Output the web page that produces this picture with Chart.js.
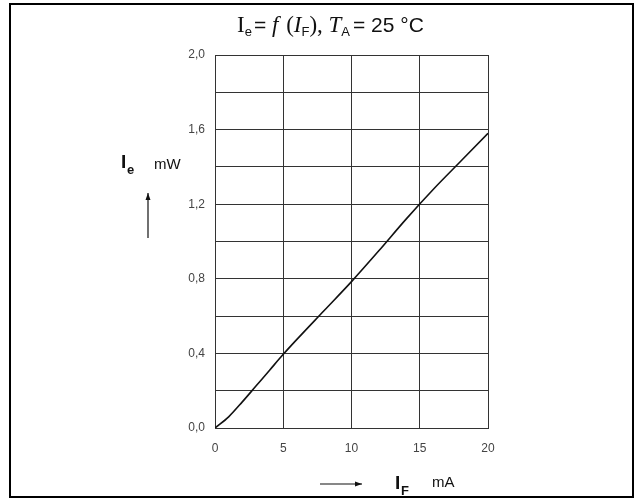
<!DOCTYPE html>
<html>
<head>
<meta charset="utf-8">
<script src="https://cdn.jsdelivr.net/npm/chart.js@4/dist/chart.umd.min.js"></script>
<style>
  html, body { margin: 0; padding: 0; background: #fff; }
  canvas { display: block; }
</style>
</head>
<body>
<canvas id="ieChart" width="634" height="498"></canvas>
<script>
// forward current I_F in mA and radiant power I_e in mW
const forwardCurrent = [0, 1, 2, 3, 4, 5, 6, 8, 10, 12, 14, 16, 18, 20];
const radiantPower = [0, 0.06, 0.14, 0.225, 0.31, 0.395, 0.475, 0.63, 0.785, 0.95, 1.12, 1.28, 1.43, 1.58];
const xTicks = [0, 5, 10, 15, 20];
const yTickLabels = ['0,0', '0,4', '0,8', '1,2', '1,6', '2,0'];

const SANS = '"Liberation Sans", Arial, sans-serif';
const SERIF = '"Liberation Serif", "Times New Roman", serif';

// draw text pieces one after the other, each with its own font and baseline
function drawRun(ctx, x, parts) {
    parts.forEach(p => {
        ctx.font = p.font;
        ctx.fillText(p.text, x, p.y);
        x += ctx.measureText(p.text).width + (p.gap || 0);
    });
}

function drawAt(ctx, parts) {
    parts.forEach(p => {
        ctx.font = p.font;
        ctx.fillText(p.text, p.x, p.y);
    });
}

function arrow(ctx, x1, y1, x2, y2) {
    const ang = Math.atan2(y2 - y1, x2 - x1);
    ctx.beginPath();
    ctx.moveTo(x1, y1);
    ctx.lineTo(x2, y2);
    ctx.lineWidth = 1.2;
    ctx.stroke();
    ctx.beginPath();
    ctx.moveTo(x2, y2);
    ctx.lineTo(x2 - 7 * Math.cos(ang) + 2.5 * Math.sin(ang), y2 - 7 * Math.sin(ang) - 2.5 * Math.cos(ang));
    ctx.lineTo(x2 - 7 * Math.cos(ang) - 2.5 * Math.sin(ang), y2 - 7 * Math.sin(ang) + 2.5 * Math.cos(ang));
    ctx.closePath();
    ctx.fill();
}

const decorPlugin = {
    id: 'decor',
    afterDraw(chart) {
        const ctx = chart.ctx;
        ctx.save();
        ctx.fillStyle = '#111';
        ctx.strokeStyle = '#111';
        ctx.textBaseline = 'alphabetic';
        ctx.textAlign = 'left';

        // title: Ie = f (IF), TA = 25 °C
        drawRun(ctx, 237, [
            { text: 'I', font: '23px ' + SERIF, y: 32 },
            { text: 'e', font: '13px ' + SANS, y: 36, gap: 2 },
            { text: '= ', font: '21px ' + SANS, y: 32 },
            { text: 'f', font: 'italic 23px ' + SERIF, y: 32, gap: 2 },
            { text: ' (', font: '23px ' + SERIF, y: 32 },
            { text: 'I', font: 'italic 23px ' + SERIF, y: 32 },
            { text: 'F', font: '13px ' + SANS, y: 36 },
            { text: '), ', font: '23px ' + SERIF, y: 32 },
            { text: 'T', font: 'italic 23px ' + SERIF, y: 32 },
            { text: 'A', font: '13px ' + SANS, y: 36, gap: 3 },
            { text: '= 25 °C', font: '21px ' + SANS, y: 32 }
        ]);

        // y axis label
        drawAt(ctx, [
            { text: 'I', font: 'bold 19px ' + SANS, x: 121, y: 168 },
            { text: 'e', font: 'bold 13px ' + SANS, x: 127, y: 174 },
            { text: 'mW', font: '15px ' + SANS, x: 154, y: 169 }
        ]);
        arrow(ctx, 148, 238, 148, 193);

        // x axis label
        drawAt(ctx, [
            { text: 'I', font: 'bold 19px ' + SANS, x: 395, y: 489 },
            { text: 'F', font: 'bold 13px ' + SANS, x: 401, y: 495 },
            { text: 'mA', font: '15px ' + SANS, x: 432, y: 487 }
        ]);
        arrow(ctx, 320, 484, 362, 484);

        // outer frame
        ctx.lineWidth = 2;
        ctx.strokeStyle = '#000';
        ctx.strokeRect(10, 4, 623, 493);
        ctx.restore();
    }
};

const ctx = document.getElementById('ieChart').getContext('2d');
const ieChart = new Chart(ctx, {
    type: 'line',
    data: {
        datasets: [{
            data: forwardCurrent.map((v, i) => ({ x: v, y: radiantPower[i] })),
            borderColor: '#111',
            borderWidth: 1.6,
            pointRadius: 0,
            cubicInterpolationMode: 'monotone',
            fill: false
        }]
    },
    options: {
        responsive: false,
        animation: false,
        layout: { padding: { left: 0, top: 55, right: 146, bottom: 0 } },
        plugins: { legend: { display: false }, title: { display: false }, tooltip: { enabled: false } },
        scales: {
            x: {
                type: 'linear',
                min: xTicks[0],
                max: xTicks[xTicks.length - 1],
                afterBuildTicks: axis => { axis.ticks = xTicks.map(v => ({ value: v })); },
                afterFit: axis => { axis.height = 70; },
                grid: { color: '#333', lineWidth: 1, drawTicks: false },
                border: { color: '#333', width: 1 },
                ticks: { color: '#444', font: { family: SANS, size: 12 }, padding: 13, maxRotation: 0 }
            },
            y: {
                min: 0,
                max: 2,
                afterFit: axis => { axis.width = 215; },
                grid: { color: '#333', lineWidth: 1, drawTicks: false },
                border: { color: '#333', width: 1 },
                ticks: {
                    stepSize: 0.2,
                    color: '#444',
                    font: { family: SANS, size: 12 },
                    padding: 10,
                    callback: (value, index) => index % 2 === 0 ? yTickLabels[index / 2] : ''
                }
            }
        }
    },
    plugins: [decorPlugin]
});
</script>
</body>
</html>
